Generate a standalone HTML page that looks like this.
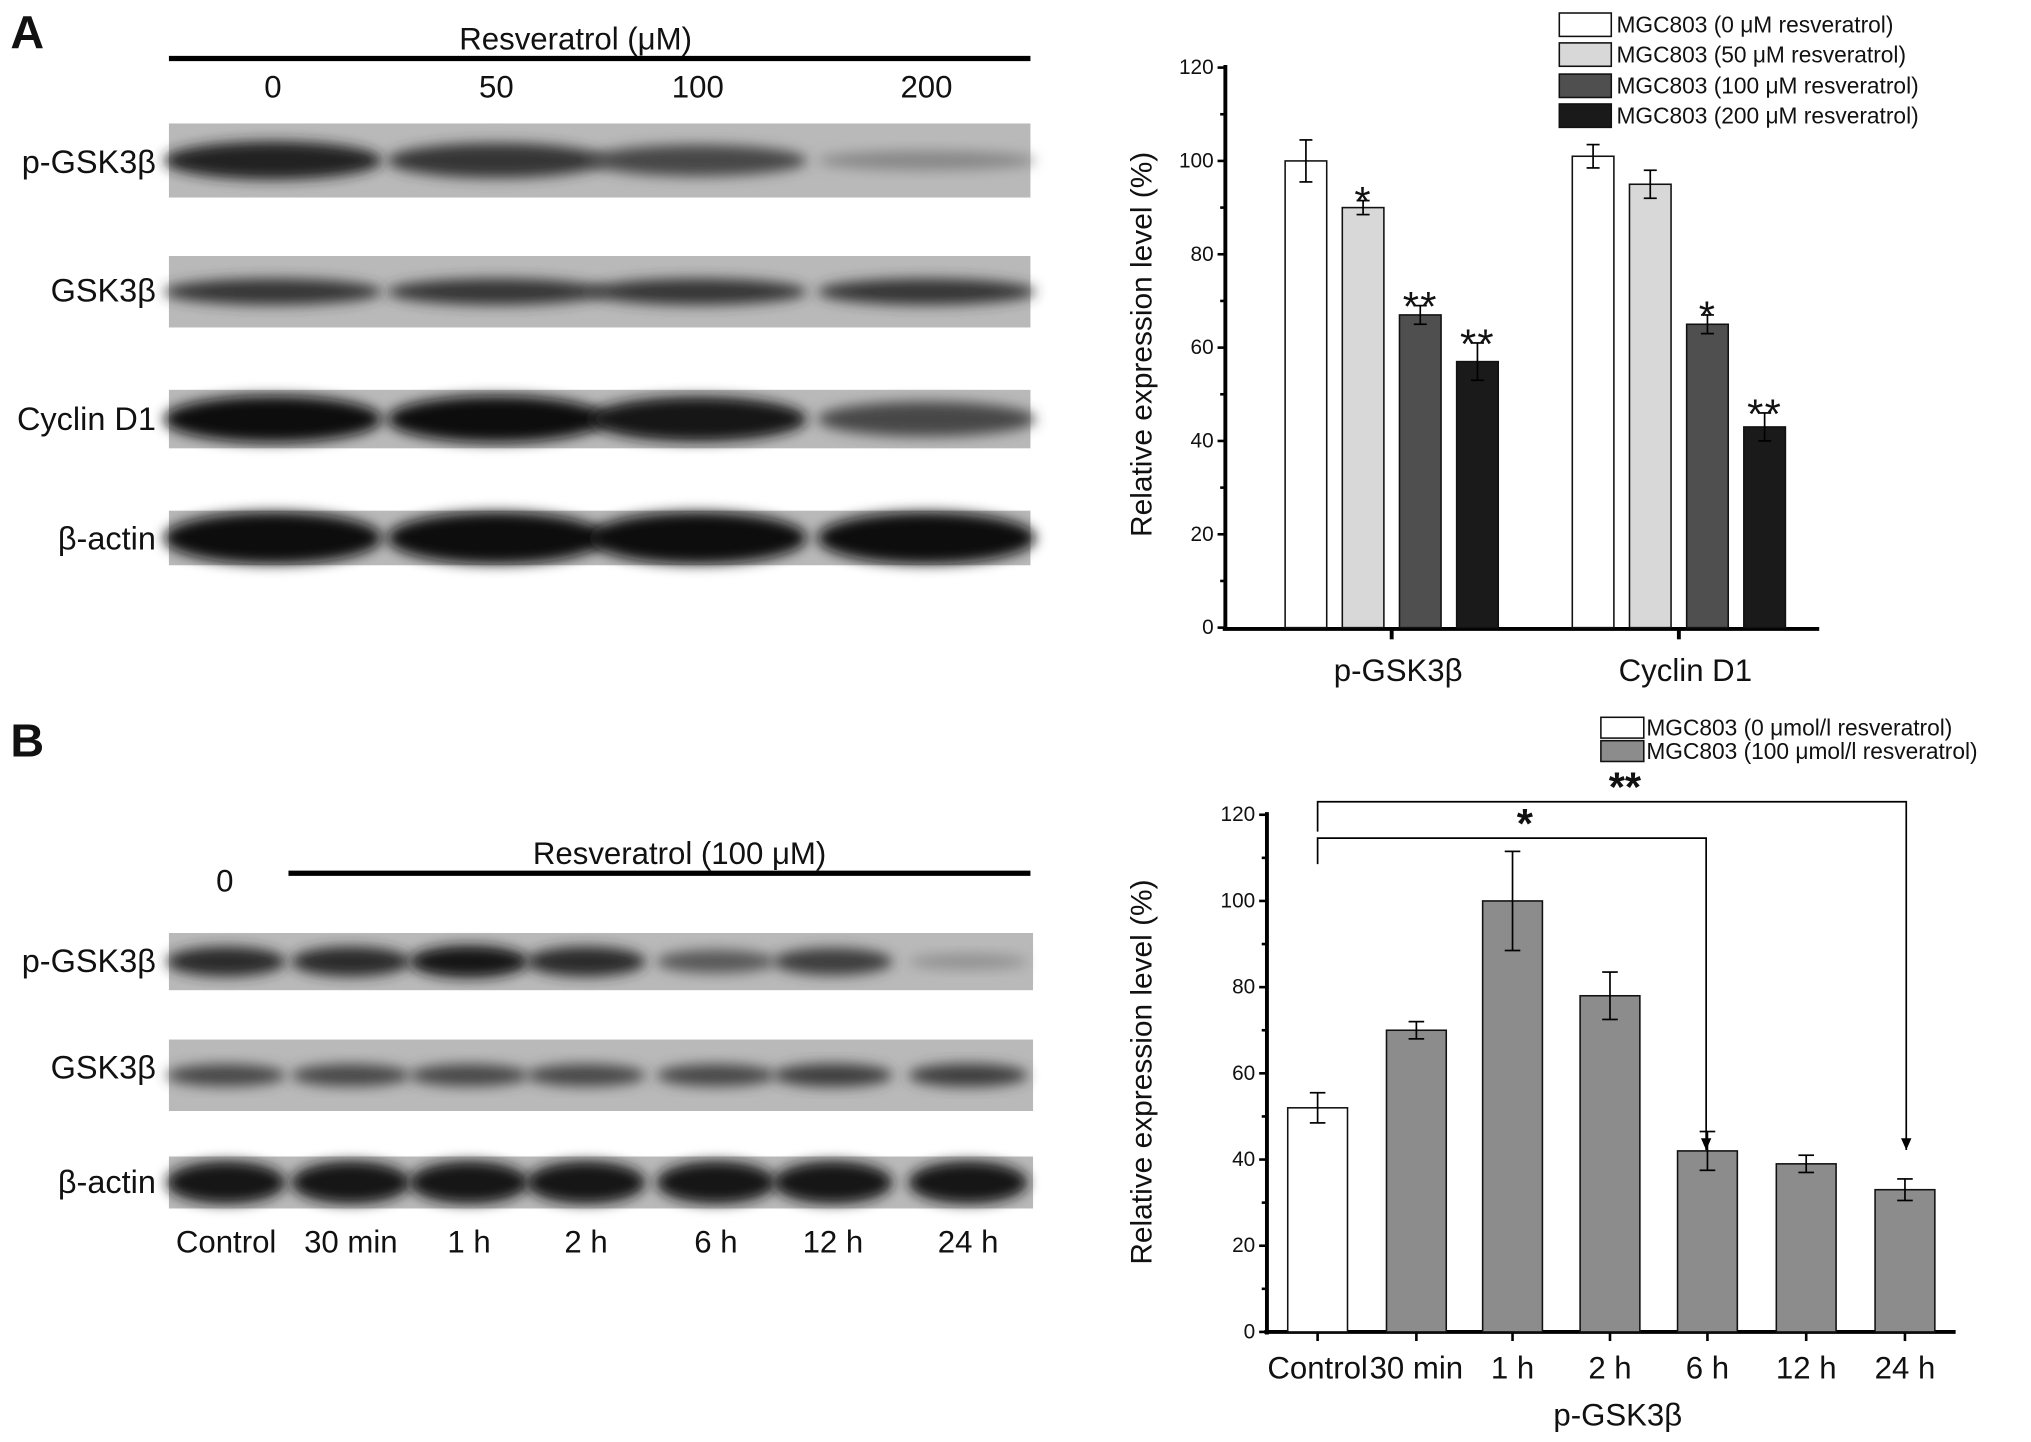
<!DOCTYPE html>
<html><head><meta charset="utf-8"><style>
html,body{margin:0;padding:0;background:#fff}
svg{display:block}
text{font-family:"Liberation Sans",Arial,sans-serif;fill:#111}
</style></head><body>
<svg id="fig" width="2031" height="1442" viewBox="0 0 1563 1109.7" xmlns="http://www.w3.org/2000/svg">
<defs>
<filter id="blur" x="-20%" y="-50%" width="140%" height="200%"><feGaussianBlur stdDeviation="5"/></filter>
</defs>
<g id="blots"></g>
<g id="chartA"></g>
<g id="chartB"></g>
</svg>
<script>
const NS="http://www.w3.org/2000/svg";
function mk(parent,tag,attrs,txt){const e=document.createElementNS(NS,tag);for(const k in attrs)e.setAttribute(k,attrs[k]);if(txt!==undefined)e.textContent=txt;parent.appendChild(e);return e;}

// ---- Chart A data ----
const catsA=["p-GSK3β","Cyclin D1"];
const seriesA0=[100,101];
const seriesA50=[90,95];
const seriesA100=[67,65];
const seriesA200=[57,43];
const errA0=[4.5,2.5];
const errA50=[1.5,3];
const errA100=[2,2];
const errA200=[4,3];
const starsA50=["*",""];
const starsA100=["**","*"];
const starsA200=["**","**"];
const legendA=["MGC803 (0 μM resveratrol)","MGC803 (50 μM resveratrol)","MGC803 (100 μM resveratrol)","MGC803 (200 μM resveratrol)"];
const ticksA=[0,20,40,60,80,100,120];
// ---- Chart B data ----
const catsB=["Control","30 min","1 h","2 h","6 h","12 h","24 h"];
const valsB=[52,70,100,78,42,39,33];
const errB=[3.5,2,11.5,5.5,4.5,2,2.5];
const legendB=["MGC803 (0 μmol/l resveratrol)","MGC803 (100 μmol/l resveratrol)"];
const ticksB=[0,20,40,60,80,100,120];
// ---- Blot band intensities ----
const blotA_p=[0.9,0.8,0.7,0.35];
const blotA_g=[0.8,0.8,0.8,0.8];
const blotA_c=[1,1,0.95,0.7];
const blotA_b=[1,1,1,1];
const blotB_p=[0.85,0.85,0.95,0.85,0.6,0.75,0.3];
const blotB_g=[0.7,0.7,0.7,0.7,0.7,0.75,0.75];
const blotB_b=[0.95,0.95,0.95,0.95,0.95,0.95,0.95];

// ---------- Blots ----------
const B=document.getElementById('blots');
let t=mk(B,'text',{x:8,y:37,'font-size':36,'font-weight':'bold'},'A');
t=mk(B,'text',{x:8,y:582,'font-size':36,'font-weight':'bold'},'B');
function strip(x0,x1,y0,y1,lanes,ints,bh,name,label,ly){
  const g=mk(B,'g',{});
  mk(g,'rect',{x:x0,y:y0,width:x1-x0,height:y1-y0,fill:'#b9b9b9'});
  const cy=(y0+y1)/2;
  lanes.forEach((lx,i)=>{const w=(lanes.length>4?46:84);const v=Math.round(200-ints[i]*185);
    const e=mk(g,'ellipse',{cx:lx,cy:cy,rx:w,ry:bh*ints[i]+3,fill:`rgb(${v},${v},${v})`,filter:'url(#blur)'});
    });
  const l=mk(B,'text',{x:120,y:ly,'font-size':25,'text-anchor':'end'},label);
}
const lanesA=[210,382,537,713];
strip(130,793,95,152,lanesA,blotA_p,13,'blot-a-p-gsk3b','p-GSK3β',133);
strip(130,793,197,252,lanesA,blotA_g,9,'blot-a-gsk3b','GSK3β',232);
strip(130,793,300,345,lanesA,blotA_c,15,'blot-a-cyclin-d1','Cyclin D1',331);
strip(130,793,393,435,lanesA,blotA_b,17,'blot-a-b-actin','β-actin',423);
t=mk(B,'text',{x:443,y:38,'font-size':24,'text-anchor':'middle'},'Resveratrol (μM)');
mk(B,'line',{x1:130,x2:793,y1:45,y2:45,stroke:'#000','stroke-width':4});
["0","50","100","200"].forEach((s,i)=>{const e=mk(B,'text',{x:lanesA[i],y:75,'font-size':24,'text-anchor':'middle'},s);});
const lanesB=[174,270,361,451,551,641,745];
strip(130,795,718,762,lanesB,blotB_p,10,'blot-b-p-gsk3b','p-GSK3β',748);
strip(130,795,800,855,lanesB,blotB_g,8,'blot-b-gsk3b','GSK3β',830);
strip(130,795,890,930,lanesB,blotB_b,14,'blot-b-b-actin','β-actin',918);
t=mk(B,'text',{x:173,y:686,'font-size':24,'text-anchor':'middle'},'0');
t=mk(B,'text',{x:523,y:665,'font-size':24,'text-anchor':'middle'},'Resveratrol (100 μM)');
mk(B,'line',{x1:222,x2:793,y1:672,y2:672,stroke:'#000','stroke-width':4});
catsB.forEach((s,i)=>{const e=mk(B,'text',{x:lanesB[i],y:964,'font-size':24,'text-anchor':'middle'},s);});

// ---------- Chart A ----------
const A=document.getElementById('chartA');
const yA=v=>483-v*(431/120);
mk(A,'line',{x1:943,x2:943,y1:50,y2:485,stroke:'#000','stroke-width':3});
mk(A,'line',{x1:941,x2:1400,y1:484,y2:484,stroke:'#000','stroke-width':3});
ticksA.forEach(v=>{mk(A,'line',{x1:937,x2:943,y1:yA(v),y2:yA(v),stroke:'#000','stroke-width':2});
 const e=mk(A,'text',{x:934,y:yA(v)+5,'font-size':16,'text-anchor':'end'},v);});
ticksA.slice(0,-1).forEach(v=>mk(A,'line',{x1:939,x2:943,y1:yA(v+10),y2:yA(v+10),stroke:'#000','stroke-width':2}));
t=mk(A,'text',{x:0,y:0,'font-size':23,'text-anchor':'middle',transform:`translate(886,265) rotate(-90)`},'Relative expression level (%)');
const colsA=['#ffffff','#d8d8d8','#4f4f4f','#1a1a1a'];
const sA=[seriesA0,seriesA50,seriesA100,seriesA200], eA=[errA0,errA50,errA100,errA200], stA=[null,starsA50,starsA100,starsA200];
const groupC=[1071,1292], offs=[-66,-22,22,66], bw=32;
catsA.forEach((c,gi)=>{
  mk(A,'line',{x1:groupC[gi],x2:groupC[gi],y1:484,y2:492,stroke:'#000','stroke-width':3});
  const l=mk(A,'text',{x:groupC[gi]+5,y:524,'font-size':24,'text-anchor':'middle'},c);
  sA.forEach((s,si)=>{const cx=groupC[gi]+offs[si];const v=s[gi];
    const r=mk(A,'rect',{x:cx-bw/2,y:yA(v),width:bw,height:yA(0)-yA(v),fill:colsA[si],stroke:'#111','stroke-width':1.2});
    
    const e=eA[si][gi];
    mk(A,'line',{x1:cx,x2:cx,y1:yA(v+e),y2:yA(v-e),stroke:'#000','stroke-width':1.3});
    mk(A,'line',{x1:cx-5,x2:cx+5,y1:yA(v+e),y2:yA(v+e),stroke:'#000','stroke-width':1.3});
    mk(A,'line',{x1:cx-5,x2:cx+5,y1:yA(v-e),y2:yA(v-e),stroke:'#000','stroke-width':1.3});
    if(stA[si]&&stA[si][gi]){const st=mk(A,'text',{x:cx,y:yA(v+e)+12,'font-size':32,'text-anchor':'middle','letter-spacing':'1'},stA[si][gi]);}
  });
});
const legA=[10,33,57,80];
legendA.forEach((s,i)=>{mk(A,'rect',{x:1200,y:legA[i],width:40,height:18,fill:colsA[i],stroke:'#111','stroke-width':1.2});
 const e=mk(A,'text',{x:1244,y:legA[i]+15,'font-size':17.5},s);});

// ---------- Chart B ----------
const C=document.getElementById('chartB');
const yB=v=>1025-v*(398/120);
const xB=[1014,1090,1164,1239,1314,1390,1466];
mk(C,'line',{x1:975,x2:975,y1:625,y2:1027,stroke:'#000','stroke-width':3});
mk(C,'line',{x1:973,x2:1505,y1:1025,y2:1025,stroke:'#000','stroke-width':3});
ticksB.forEach(v=>{mk(C,'line',{x1:969,x2:975,y1:yB(v),y2:yB(v),stroke:'#000','stroke-width':2});
 const e=mk(C,'text',{x:966,y:yB(v)+5,'font-size':16,'text-anchor':'end'},v);});
ticksB.slice(0,-1).forEach(v=>mk(C,'line',{x1:971,x2:975,y1:yB(v+10),y2:yB(v+10),stroke:'#000','stroke-width':2}));
t=mk(C,'text',{x:0,y:0,'font-size':23,'text-anchor':'middle',transform:`translate(886,825) rotate(-90)`},'Relative expression level (%)');
valsB.forEach((v,i)=>{const cx=xB[i],w=46;
  mk(C,'line',{x1:cx,x2:cx,y1:1025,y2:1032,stroke:'#000','stroke-width':2});
  const r=mk(C,'rect',{x:cx-w/2,y:yB(v),width:w,height:yB(0)-yB(v),fill:i==0?'#fff':'#8c8c8c',stroke:'#111','stroke-width':1.2});
  
  const e=errB[i];
  mk(C,'line',{x1:cx,x2:cx,y1:yB(v+e),y2:yB(v-e),stroke:'#000','stroke-width':1.3});
  mk(C,'line',{x1:cx-6,x2:cx+6,y1:yB(v+e),y2:yB(v+e),stroke:'#000','stroke-width':1.3});
  mk(C,'line',{x1:cx-6,x2:cx+6,y1:yB(v-e),y2:yB(v-e),stroke:'#000','stroke-width':1.3});
  const l=mk(C,'text',{x:cx,y:1061,'font-size':24,'text-anchor':'middle'},catsB[i]);
});
t=mk(C,'text',{x:1245,y:1097,'font-size':24,'text-anchor':'middle'},'p-GSK3β');
function bracket(x1,x2,y,yl,yr,star,sy){
 const g=mk(C,'g',{});
 mk(g,'polyline',{points:`${x1},${yl} ${x1},${y} ${x2},${y} ${x2},${yr}`,fill:'none',stroke:'#000','stroke-width':1.3});
 mk(g,'polygon',{points:`${x2-4},${yr-9} ${x2+4},${yr-9} ${x2},${yr}`,fill:'#000'});
 mk(g,'text',{x:(x1+x2)/2+10,y:sy,'font-size':32,'font-weight':'bold','text-anchor':'middle'},star);
}
bracket(1014,1313,645,665,885,'*',645);
bracket(1014,1467,617,640,885,'**',617);
const legB=[552,570];
legendB.forEach((s,i)=>{mk(C,'rect',{x:1232,y:legB[i],width:33,height:16,fill:i==0?'#fff':'#8c8c8c',stroke:'#111','stroke-width':1.2});
 const e=mk(C,'text',{x:1267,y:legB[i]+14,'font-size':17.5},s);});
</script>
</body></html>
